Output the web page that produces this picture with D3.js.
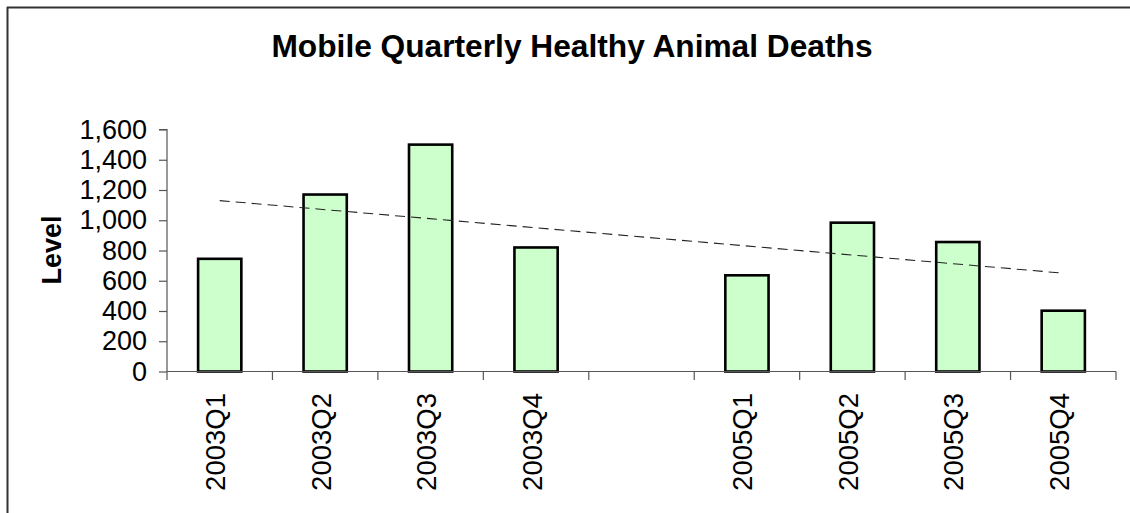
<!DOCTYPE html>
<html>
<head>
<meta charset="utf-8">
<script src="https://cdn.jsdelivr.net/npm/d3@7"></script>
<style>
  html, body { margin: 0; padding: 0; background: #fff; }
  svg { display: block; font-family: "Liberation Sans", Arial, sans-serif; }
</style>
</head>
<body>
<svg id="chart" width="1130" height="513"></svg>
<script>
// ---- data ----
const categories = ["2003Q1", "2003Q2", "2003Q3", "2003Q4", "", "2005Q1", "2005Q2", "2005Q3", "2005Q4"];
const values = [745, 1170, 1500, 820, null, 636, 984, 856, 402];
const yTicks = [0, 200, 400, 600, 800, 1000, 1200, 1400, 1600];
const trendCategories = ["2003Q1", "2005Q4"];
const trendValues = [1130, 650];
const titleText = "Mobile Quarterly Healthy Animal Deaths";
const yTitle = "Level";

// ---- layout ----
const W = 1130, H = 513;
const plot = { left: 167, right: 1116, top: 129.5, bottom: 371.5 };
const svg = d3.select("#chart");

// frame (top + left edges visible)
svg.append("line").attr("x1", 7).attr("x2", W).attr("y1", 7.5).attr("y2", 7.5)
  .attr("stroke", "#333").attr("stroke-width", 2);
svg.append("line").attr("x1", 7.5).attr("x2", 7.5).attr("y1", 7).attr("y2", H)
  .attr("stroke", "#333").attr("stroke-width", 2);

const x = d3.scaleBand().domain(categories.map((c, i) => i))
  .range([plot.left, plot.right]).paddingInner(0).paddingOuter(0);
const y = d3.scaleLinear().domain([0, 1600]).range([plot.bottom, plot.top]);

const barW = x.bandwidth() * 0.41;

// title
svg.append("text")
  .attr("x", 572).attr("y", 57)
  .attr("text-anchor", "middle")
  .attr("font-size", 31.7).attr("font-weight", "bold").attr("fill", "#000")
  .text(titleText);

// y axis title
svg.append("text")
  .attr("transform", `translate(60.5,250) rotate(-90)`)
  .attr("text-anchor", "middle")
  .attr("font-size", 27).attr("font-weight", "bold").attr("fill", "#000")
  .text(yTitle);

// y axis
const yAxis = d3.axisLeft(y).tickValues(yTicks).tickSize(8).tickPadding(12)
  .tickFormat(d3.format(","));
const gy = svg.append("g").attr("transform", `translate(${plot.left},0)`).call(yAxis);
gy.select(".domain").attr("stroke", "#555").attr("stroke-width", 1.2)
  .attr("d", `M-8,${plot.top}H0V${plot.bottom}`);
gy.selectAll(".tick line").attr("stroke", "#555").attr("stroke-width", 1.2);
gy.selectAll(".tick text").attr("font-size", 27).attr("fill", "#000")
  .attr("font-family", "Liberation Sans, Arial, sans-serif");

// bars
svg.append("g").selectAll("rect")
  .data(values.map((v, i) => ({ v, i })).filter(d => d.v !== null))
  .join("rect")
  .attr("x", d => x(d.i) + x.bandwidth() / 2 - barW / 2)
  .attr("y", d => y(d.v))
  .attr("width", barW)
  .attr("height", d => y(0) - y(d.v))
  .attr("fill", "#ccffcc")
  .attr("stroke", "#000").attr("stroke-width", 2.6);

// x axis
const gx = svg.append("g").attr("transform", `translate(0,${plot.bottom})`);
gx.append("line").attr("x1", plot.left).attr("x2", plot.right)
  .attr("stroke", "#555").attr("stroke-width", 1.2);
const boundaries = categories.map((c, i) => x(i)).concat([plot.right]);
gx.selectAll("line.tk").data(boundaries).join("line").attr("class", "tk")
  .attr("x1", d => d).attr("x2", d => d).attr("y1", 0).attr("y2", 8.5)
  .attr("stroke", "#555").attr("stroke-width", 1.2);
gx.selectAll("text").data(categories.map((c, i) => ({ c, i }))).join("text")
  .attr("transform", d => `translate(${x(d.i) + x.bandwidth() / 2 + 5.5},${393 - plot.bottom}) rotate(-90)`)
  .attr("text-anchor", "end")
  .attr("font-size", 27.5).attr("fill", "#000")
  .text(d => d.c);

// trendline
const idx = c => categories.indexOf(c);
const trend = trendCategories.map((c, k) => [x(idx(c)) + x.bandwidth() / 2, y(trendValues[k])]);
svg.append("path")
  .attr("d", d3.line()(trend))
  .attr("fill", "none").attr("stroke", "#222").attr("stroke-width", 1.1)
  .attr("stroke-dasharray", "10,6");
</script>
</body>
</html>
